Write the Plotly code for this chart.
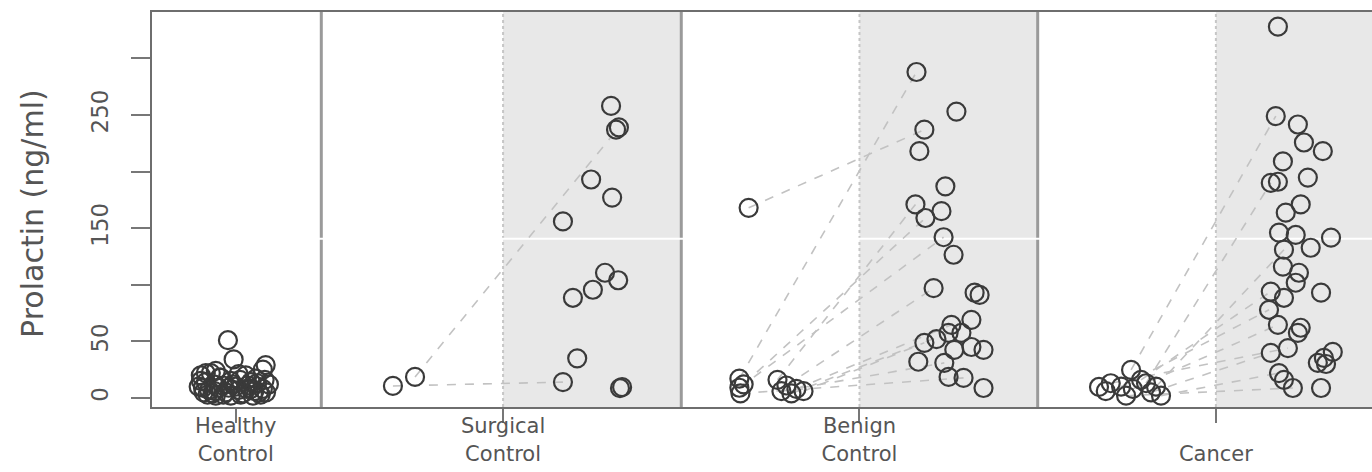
import plotly.graph_objects as go

# ---- data -------------------------------------------------------------
group_labels = ["Healthy<br>Control", "Surgical<br>Control", "Benign<br>Control", " <br>Cancer"]
group_centers = [1.25, 2, 3, 4]

# Healthy controls (single time point)
healthy_values = [51, 34, 29, 25, 20, 22, 18, 15, 20, 17, 10, 5, 4, 9, 5, 12, 3, 8,
                  5, 12, 14, 2, 7, 2, 16, 15, 11, 21, 11, 24, 3, 3, 2, 22, 14, 8,
                  6, 9, 4, 13, 7, 10, 5, 18, 8, 3, 12, 6, 16, 9]
healthy_jitter = [-0.022, -0.006, 0.084, 0.076, -0.098, -0.070, -0.042, -0.014, 0.028,
                  0.056, -0.104, -0.090, -0.065, -0.048, -0.028, -0.008, 0.014, 0.042,
                  0.065, 0.093, -0.084, -0.056, 0.008, 0.048, 0.081, -0.098, -0.036,
                  0.008, 0.034, -0.056, -0.079, 0.070, -0.014, -0.084, 0.042, 0.076,
                  -0.060, -0.020, 0.020, 0.060, -0.075, 0.000, 0.085, -0.045, 0.030,
                  -0.035, -0.062, 0.052, 0.012, -0.092]

# Surgical controls: first n_pairs pre values are linked to the first n_pairs post values
surgical_pre = [10.6, 18.6]
surgical_pre_jitter = [-0.309, -0.247]
surgical_post = [14, 239, 258, 237, 193, 177, 156, 110.6, 104, 95.6, 88.5, 35, 8.6, 9.5]
surgical_post_jitter = [0.168, 0.325, 0.303, 0.317, 0.247, 0.306, 0.168, 0.286, 0.323,
                        0.252, 0.196, 0.208, 0.328, 0.334]
surgical_pairs = 2

# Benign controls
benign_pre = [168, 17, 16, 12, 9, 11, 8, 6, 6, 4, 4]
benign_pre_jitter = [-0.311, -0.337, -0.230, -0.325, -0.337, -0.205, -0.177, -0.157,
                     -0.219, -0.334, -0.191]
benign_post = [237, 288, 171, 159, 142, 97, 64.6, 48.7, 31, 17.7, 57.5,
               253, 218, 187, 165, 126.5, 91, 93, 69, 57.5, 42.5, 42.5, 45, 32, 18.6,
               8.8, 52]
benign_post_jitter = [0.182, 0.160, 0.157, 0.185, 0.236, 0.208, 0.258, 0.182, 0.238,
                      0.292, 0.250, 0.272, 0.168, 0.241, 0.230, 0.264, 0.337, 0.323,
                      0.314, 0.286, 0.266, 0.348, 0.314, 0.165, 0.250, 0.348, 0.216]
benign_pairs = 11

# Cancer patients
cancer_pre = [24.8, 13, 10, 16, 10, 8, 5, 2, 2, 13, 9.7, 6]
cancer_pre_jitter = [-0.238, -0.196, -0.168, -0.210, -0.266, -0.233, -0.182, -0.154,
                     -0.252, -0.295, -0.328, -0.309]
cancer_post = [249, 190, 131, 94, 77.9, 64.6, 39.8, 22, 8.8, 44,
               328, 241.6, 225.7, 218, 209, 194.7, 191, 171, 163.7, 146, 144, 141.6,
               132.7, 116, 110.6, 101.8, 93, 88.5, 62, 57.5, 40.7, 35.4, 31, 8.8, 16, 30]
cancer_post_jitter = [0.168, 0.154, 0.191, 0.154, 0.149, 0.174, 0.154, 0.177, 0.216, 0.202,
                      0.174, 0.230, 0.247, 0.300, 0.188, 0.258, 0.174, 0.238, 0.196, 0.177,
                      0.224, 0.323, 0.266, 0.188, 0.233, 0.224, 0.295, 0.191, 0.238, 0.230,
                      0.328, 0.303, 0.286, 0.295, 0.191, 0.309]
cancer_pairs = 10

y_ticks = [0, 50, 100, 150, 200, 250, 300]
y_tick_text = ["0", "50", "", "150", "", "250", ""]

# ---- styling ----------------------------------------------------------
FONT = "DejaVu Sans"
TEXT = "#555555"
AXIS = "#6e6e6e"
POINT = "#3a3a3a"
LINK = "#c2c2c2"
SHADE = "#e8e8e8"

fig = go.Figure()

paired_groups = [
    (group_centers[1], surgical_pre, surgical_pre_jitter, surgical_post, surgical_post_jitter, surgical_pairs),
    (group_centers[2], benign_pre, benign_pre_jitter, benign_post, benign_post_jitter, benign_pairs),
    (group_centers[3], cancer_pre, cancer_pre_jitter, cancer_post, cancer_post_jitter, cancer_pairs),
]

# dashed links between paired pre / post measurements
lx, ly = [], []
for c, pre, pre_j, post, post_j, n in paired_groups:
    for i in range(n):
        lx += [c + pre_j[i], c + post_j[i], None]
        ly += [pre[i], post[i], None]
fig.add_trace(go.Scatter(x=lx, y=ly, mode="lines", hoverinfo="skip",
                         line=dict(color=LINK, width=1.6, dash="dash")))

# all points as open circles
px, py = [], []
px += [group_centers[0] + j for j in healthy_jitter]
py += healthy_values
for c, pre, pre_j, post, post_j, n in paired_groups:
    px += [c + j for j in pre_j] + [c + j for j in post_j]
    py += pre + post
fig.add_trace(go.Scatter(x=px, y=py, mode="markers",
                         marker=dict(symbol="circle-open", size=18, color=POINT,
                                     line=dict(width=2.2))))

# panel backgrounds, separators and reference lines
shapes = []
for c in group_centers[1:]:
    shapes.append(dict(type="rect", xref="x", yref="paper", x0=c, x1=c + 0.5, y0=0, y1=1,
                       fillcolor=SHADE, line=dict(width=0), layer="below"))
    shapes.append(dict(type="line", xref="x", yref="paper", x0=c, x1=c, y0=0, y1=1,
                       line=dict(color="#c6c6c6", width=2, dash="dot"), layer="below"))
for xd in [1.49, 2.5, 3.5]:
    shapes.append(dict(type="line", xref="x", yref="paper", x0=xd, x1=xd, y0=0, y1=1,
                       line=dict(color="#9a9a9a", width=3), layer="below"))
shapes.append(dict(type="line", xref="paper", yref="y", x0=0, x1=1, y0=140.7, y1=140.7,
                   line=dict(color="#ffffff", width=2), layer="below"))

fig.update_layout(
    width=1372, height=472,
    margin=dict(l=152, r=0, t=12, b=65),
    paper_bgcolor="white", plot_bgcolor="white",
    showlegend=False,
    font=dict(family=FONT, color=TEXT),
    shapes=shapes,
    annotations=[dict(text="Prolactin (ng/ml)", textangle=-90, xref="paper", yref="paper",
                      x=-0.0975, y=0.489, xanchor="center", yanchor="middle",
                      showarrow=False, font=dict(size=30, family=FONT, color=TEXT))],
)
fig.update_xaxes(range=[1.015, 4.438], tickvals=group_centers, ticktext=group_labels,
                 showgrid=False, zeroline=False, showline=True, mirror=True,
                 linecolor=AXIS, linewidth=2, ticks="outside", ticklen=14,
                 tickcolor="#777777", tickwidth=2, ticklabelstandoff=-15,
                 tickfont=dict(size=21, family=FONT, color=TEXT))
fig.update_yaxes(range=[-8, 341], tickvals=y_ticks, ticktext=y_tick_text,
                 showgrid=False, zeroline=False, showline=True, mirror=False,
                 linecolor=AXIS, linewidth=2, ticks="outside", ticklen=19,
                 tickcolor="#777777", tickwidth=2, tickangle=-90, ticklabelstandoff=14,
                 tickfont=dict(size=23, family=FONT, color=TEXT))

fig.write_html("out.html")
